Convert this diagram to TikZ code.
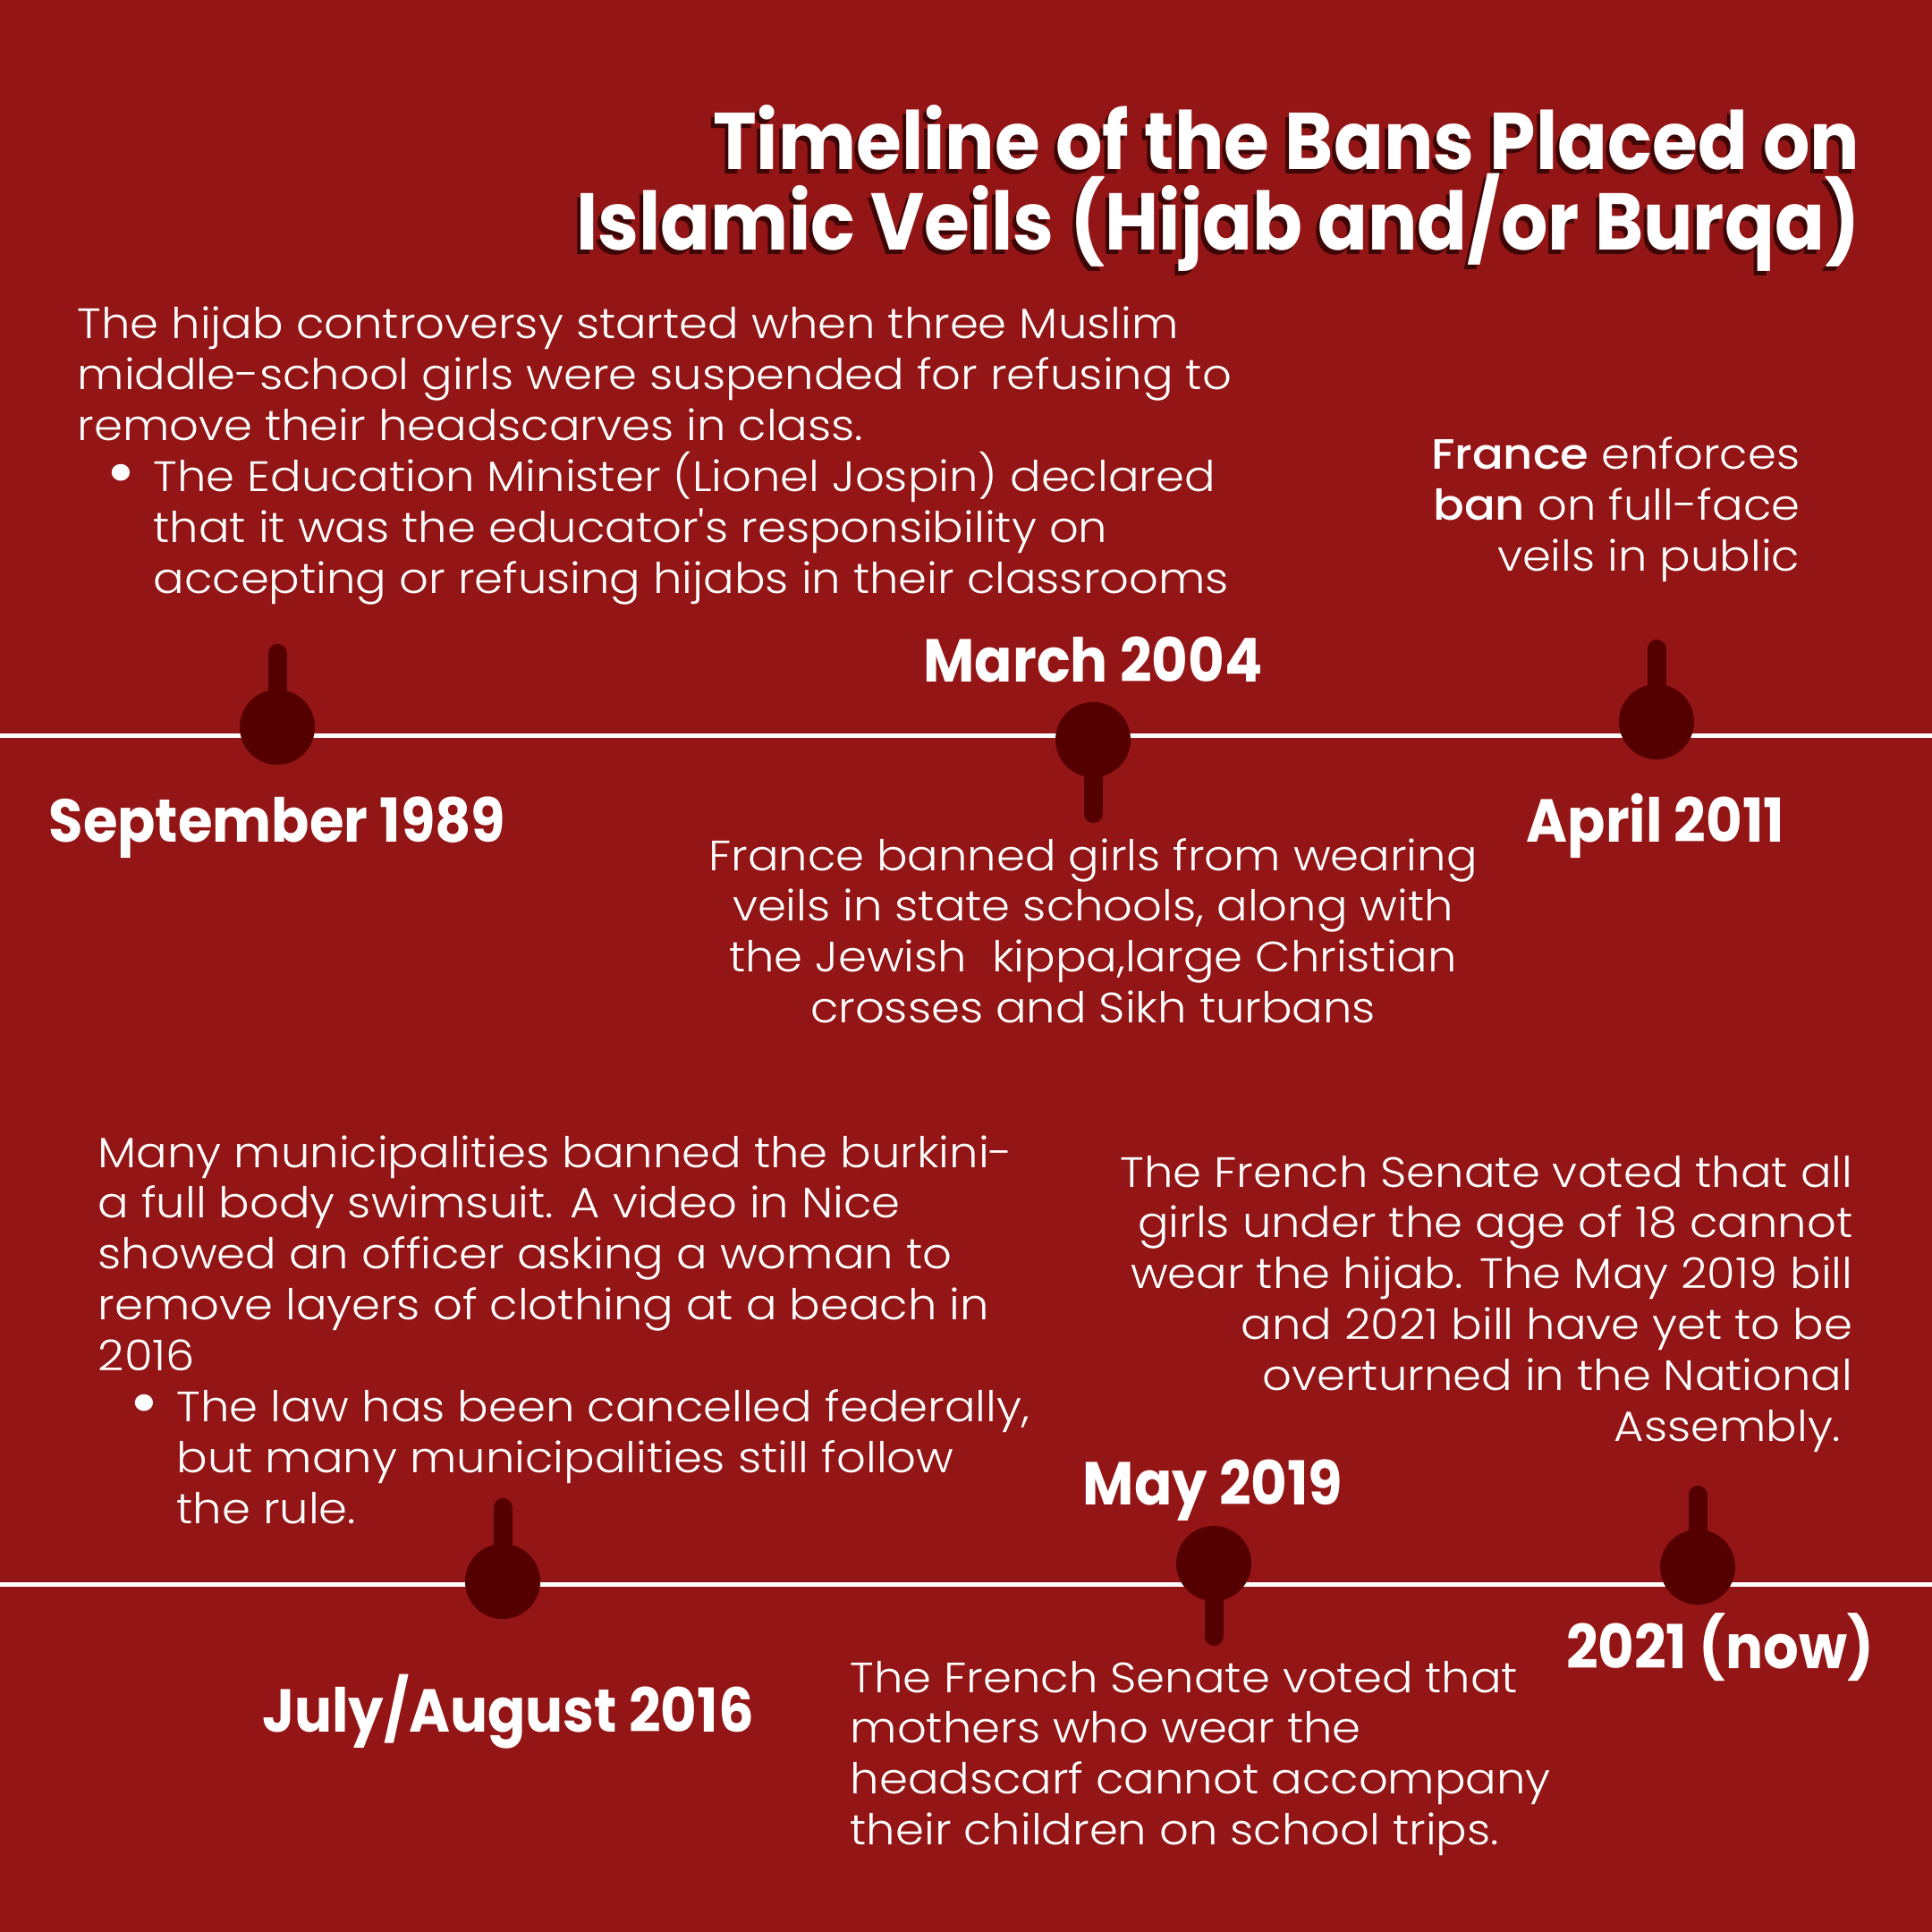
\documentclass[tikz,border=0pt]{standalone}
\usepackage{fontspec}
\usepackage{graphicx}
\IfFontExistsTF{Poppins Light}{\newfontfamily\bodyfont{Poppins Light}[FakeStretch=1.08]}{\newfontfamily\bodyfont{Poppins}[FakeStretch=1.08]}
\IfFontExistsTF{Poppins Medium}{\newfontfamily\medfont{Poppins Medium}[FakeStretch=1.08]}{\newfontfamily\medfont{Poppins}[FakeStretch=1.08]}
\newfontfamily\datefont{Poppins}[FakeStretch=0.92]
\newfontfamily\titlefont{Poppins}[FakeStretch=0.915]
\definecolor{bgred}{HTML}{931515}
\definecolor{pin}{HTML}{550000}
\definecolor{shadow}{HTML}{3D0606}
\tikzset{
  bodytext/.style={text=white, inner sep=0pt, font=\bodyfont\fontsize{13.5}{16.2}\selectfont},
  datetext/.style={text=white, inner sep=0pt, anchor=base, font=\datefont\bfseries\fontsize{19.3}{22}\selectfont},
  titletext/.style={inner sep=0pt, anchor=base east, font=\titlefont\bfseries\fontsize{25.6}{23.6}\selectfont},
  timeline/.style={draw=white, line width=0.05cm},
  stem/.style={draw=pin, line width=0.21cm, line cap=round},
  pinhead/.style={circle, fill=pin, minimum size=0.84cm, inner sep=0pt},
}
\newcommand{\titletxt}{\parbox[t]{18cm}{\raggedleft Timeline of the Bans Placed on\\ Islamic Veils (Hijab and/or Burqa)}}
\newcommand{\bigbullet}{\raisebox{-0.12em}{\scalebox{1.7}{•}}}
\begin{document}
\begin{tikzpicture}
\useasboundingbox (0,0) rectangle (21.6,-21.6);
\fill[bgred] (0,0) rectangle (21.6,-21.6);

% title
\node[titletext, text=shadow] (titleshadow) at (20.76,-1.95) {\titletxt};
\node[titletext, text=white] (title) at (20.80,-1.90) {\titletxt};

% timelines
\coordinate (l1a) at (0,-8.22); \coordinate (l1b) at (21.6,-8.22);
\coordinate (l2a) at (0,-17.71); \coordinate (l2b) at (21.6,-17.71);
\draw[timeline] (l1a) -- (l1b);
\draw[timeline] (l2a) -- (l2b);

% markers
\node[pinhead] (m1) at (3.10,-8.13) {};
\node[pinhead] (m2) at (12.22,-8.27) {};
\node[pinhead] (m3) at (18.52,-8.07) {};
\node[pinhead] (m4) at (5.62,-17.68) {};
\node[pinhead] (m5) at (13.57,-17.48) {};
\node[pinhead] (m6) at (18.98,-17.52) {};
\coordinate (s1) at (3.10,-7.305);
\coordinate (s2) at (12.22,-9.095);
\coordinate (s3) at (18.52,-7.255);
\coordinate (s4) at (5.62,-16.855);
\coordinate (s5) at (13.57,-18.295);
\coordinate (s6) at (18.98,-16.715);
\draw[stem] (s1) -- (m1.center);
\draw[stem] (s2) -- (m2.center);
\draw[stem] (s3) -- (m3.center);
\draw[stem] (s4) -- (m4.center);
\draw[stem] (s5) -- (m5.center);
\draw[stem] (s6) -- (m6.center);

% dates
\node[datetext] (d1) at (3.10,-9.41) {September 1989};
\node[datetext] (d2) at (12.22,-7.62) {March 2004};
\node[datetext] (d3) at (18.51,-9.41) {April 2011};
\node[datetext] (d4) at (5.68,-19.36) {July/August 2016};
\node[datetext] (d5) at (13.56,-16.82) {May 2019};
\node[datetext] (d6) at (19.23,-18.65) {2021 (now)};

% text blocks
\node[bodytext, anchor=base west] (tA) at (0.86,-3.79) {\parbox[t]{14.5cm}{\raggedright
The hijab controversy started when three Muslim\\
middle-school girls were suspended for refusing to\\
remove their headscarves in class.\par
\leftskip=0.85cm\noindent\llap{\bigbullet\hspace{0.2cm}}The Education Minister (Lionel Jospin) declared\\
that it was the educator's responsibility on\\
accepting or refusing hijabs in their classrooms}};

\node[bodytext, anchor=base east] (tB) at (20.13,-5.25) {\parbox[t]{8cm}{\raggedleft
{\medfont France} enforces\\
{\medfont ban} on full-face\\
veils in public}};

\node[bodytext, anchor=base] (tC) at (12.22,-9.73) {\parbox[t]{11cm}{\centering
France banned girls from wearing\\
veils in state schools, along with\\
the Jewish\ \ kippa,large Christian\\
crosses and Sikh turbans}};

\node[bodytext, anchor=base west] (tD) at (1.09,-13.05) {\parbox[t]{12cm}{\raggedright
Many municipalities banned the burkini-\\
a full body swimsuit. A video in Nice\\
showed an officer asking a woman to\\
remove layers of clothing at a beach in\\
2016\par
\leftskip=0.88cm\noindent\llap{\bigbullet\hspace{0.2cm}}The law has been cancelled federally,\\
but many municipalities still follow\\
the rule.}};

\node[bodytext, anchor=base east] (tE) at (20.72,-13.27) {\parbox[t]{10cm}{\raggedleft
The French Senate voted that all\\
girls under the age of 18 cannot\\
wear the hijab. The May 2019 bill\\
and 2021 bill have yet to be\\
overturned in the National\\
Assembly.\kern0.13cm}};

\node[bodytext, anchor=base west] (tF) at (9.50,-18.92) {\parbox[t]{9cm}{\raggedright
The French Senate voted that\\
mothers who wear the\\
headscarf cannot accompany\\
their children on school trips.}};
\end{tikzpicture}
\end{document}
